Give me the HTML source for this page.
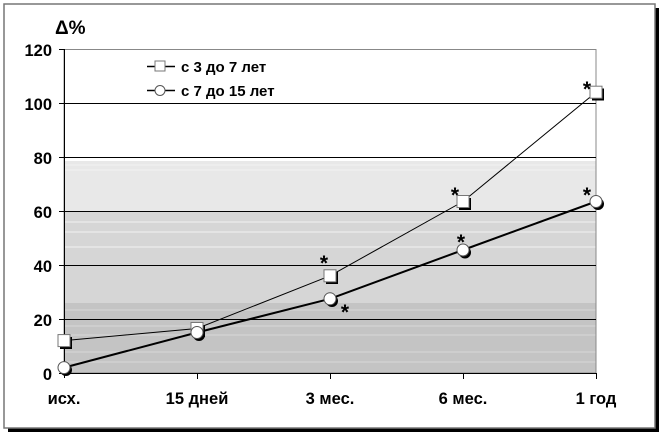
<!DOCTYPE html>
<html><head><meta charset="utf-8"><style>
body{margin:0;background:#fff;}
svg{display:block;font-family:"Liberation Sans",sans-serif;font-weight:bold;}
</style></head><body>
<svg width="666" height="438" viewBox="0 0 666 438">
<rect x="8" y="8" width="651" height="424" fill="#000"/>
<rect x="4" y="4" width="651" height="424" fill="#fff" stroke="#777" stroke-width="1.5"/>
<rect x="64" y="161" width="532" height="50" fill="#e8e8e8"/>
<rect x="64" y="211" width="532" height="92" fill="#d6d6d6"/>
<rect x="64" y="303" width="532" height="70" fill="#c4c4c4"/>
<g stroke="#f2f2f2" stroke-width="1">
<line x1="64" x2="596" y1="165" y2="165"/><line x1="64" x2="596" y1="170" y2="170"/>
<line x1="64" x2="596" y1="222" y2="222"/><line x1="64" x2="596" y1="232" y2="232"/><line x1="64" x2="596" y1="247" y2="247"/>
</g>
<g stroke="#d8d8d8" stroke-width="1">
<line x1="64" x2="596" y1="310" y2="310"/><line x1="64" x2="596" y1="326" y2="326"/><line x1="64" x2="596" y1="335" y2="335"/><line x1="64" x2="596" y1="352" y2="352"/><line x1="64" x2="596" y1="362" y2="362"/>
</g>
<rect x="64" y="49.5" width="532" height="323.5" fill="none" stroke="#888"/>
<g stroke="#000" stroke-width="1">
<line x1="64" x2="596" y1="103.5" y2="103.5"/><line x1="64" x2="596" y1="157.5" y2="157.5"/>
<line x1="64" x2="596" y1="211.5" y2="211.5"/><line x1="64" x2="596" y1="265.5" y2="265.5"/>
<line x1="64" x2="596" y1="319.5" y2="319.5"/><line x1="64" x2="596" y1="373.5" y2="373.5"/>
<line x1="64.5" x2="64.5" y1="49" y2="378"/>
<line x1="59" x2="64" y1="49.5" y2="49.5"/><line x1="59" x2="64" y1="103.5" y2="103.5"/><line x1="59" x2="64" y1="157.5" y2="157.5"/><line x1="59" x2="64" y1="211.5" y2="211.5"/><line x1="59" x2="64" y1="265.5" y2="265.5"/><line x1="59" x2="64" y1="319.5" y2="319.5"/><line x1="59" x2="64" y1="373.5" y2="373.5"/>
<line x1="197.5" x2="197.5" y1="373" y2="379"/><line x1="330.5" x2="330.5" y1="373" y2="379"/><line x1="463.5" x2="463.5" y1="373" y2="379"/><line x1="596.5" x2="596.5" y1="373" y2="379"/>
</g>
<g font-size="16.5" text-anchor="end">
<text x="52" y="56">120</text><text x="52" y="110">100</text><text x="52" y="164">80</text><text x="52" y="218">60</text><text x="52" y="272">40</text><text x="52" y="326">20</text><text x="52" y="380">0</text>
</g>
<text x="55" y="34" font-size="19">Δ%</text>
<g font-size="16.5" text-anchor="middle">
<text x="64" y="404">исх.</text><text x="197" y="404">15 дней</text><text x="330" y="404">3 мес.</text><text x="463" y="404">6 мес.</text><text x="596" y="404">1 год</text>
</g>
<polyline points="64,340.6 197,328.5 330,275.8 463,201.5 596,92.2" fill="none" stroke="#000" stroke-width="1"/>
<polyline points="64,367.6 197,332.5 330,298.8 463,250 596,201.5" fill="none" stroke="#000" stroke-width="2"/>
<g>
<rect x="60" y="337" width="12" height="12" fill="#000"/><rect x="58" y="334.6" width="12" height="12" fill="#fff" stroke="#777"/>
<rect x="193" y="325" width="12" height="12" fill="#000"/><rect x="191" y="322.5" width="12" height="12" fill="#fff" stroke="#777"/>
<rect x="326" y="272" width="12" height="12" fill="#000"/><rect x="324" y="269.8" width="12" height="12" fill="#fff" stroke="#777"/>
<rect x="459" y="198" width="12" height="12" fill="#000"/><rect x="457" y="195.5" width="12" height="12" fill="#fff" stroke="#777"/>
<rect x="592" y="88.5" width="12" height="12" fill="#000"/><rect x="590" y="86.2" width="12" height="12" fill="#fff" stroke="#777"/>
</g>
<g>
<circle cx="66" cy="370" r="6" fill="#000"/><circle cx="64" cy="367.6" r="6" fill="#fff" stroke="#555"/>
<circle cx="199" cy="335" r="6" fill="#000"/><circle cx="197" cy="332.5" r="6" fill="#fff" stroke="#555"/>
<circle cx="332" cy="301" r="6" fill="#000"/><circle cx="330" cy="298.8" r="6" fill="#fff" stroke="#555"/>
<circle cx="465" cy="252.5" r="6" fill="#000"/><circle cx="463" cy="250" r="6" fill="#fff" stroke="#555"/>
<circle cx="598" cy="204" r="6" fill="#000"/><circle cx="596" cy="201.5" r="6" fill="#fff" stroke="#555"/>
</g>
<g font-size="21" text-anchor="middle" font-weight="bold">
<text x="324" y="270">*</text><text x="455" y="202">*</text><text x="587" y="96">*</text><text x="587" y="202">*</text><text x="461" y="249">*</text><text x="345" y="319">*</text>
</g>
<line x1="147" x2="175" y1="66.5" y2="66.5" stroke="#000" stroke-width="1.5"/>
<rect x="155" y="61" width="10" height="10" fill="#fff" stroke="#777"/>
<line x1="147" x2="175" y1="90.5" y2="90.5" stroke="#000" stroke-width="1.5"/>
<circle cx="160" cy="90.5" r="5" fill="#fff" stroke="#555"/>
<text x="181" y="72" font-size="15">с 3 до 7 лет</text>
<text x="181" y="96" font-size="15">с 7 до 15 лет</text>
</svg>
</body></html>
